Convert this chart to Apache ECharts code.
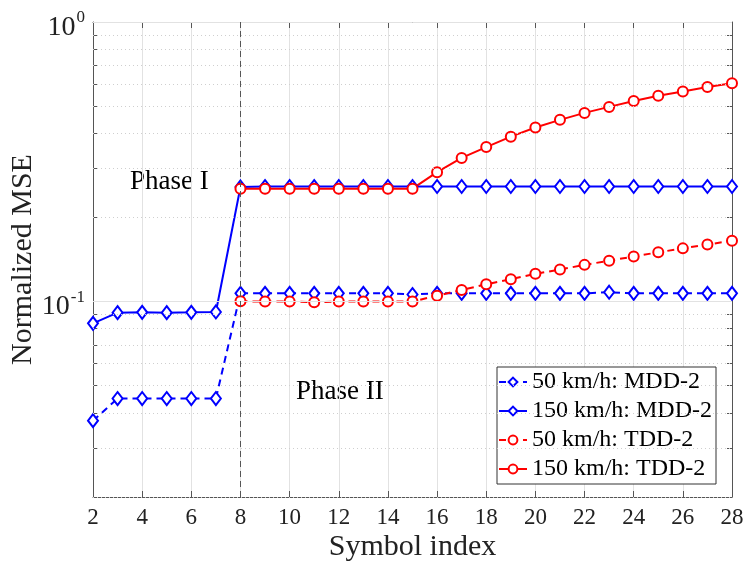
<!DOCTYPE html>
<html>
<head>
<meta charset="utf-8">
<title>Normalized MSE vs symbol index</title>
<script src="https://cdn.jsdelivr.net/npm/echarts@6.0.0/dist/echarts.min.js"></script>
<style>
html, body { margin: 0; padding: 0; background: #fff; }
#main { width: 747px; height: 572px; }
</style>
</head>
<body>
<div id="main"></div>
<script>
// values
const symbolIdx = [2, 3, 4, 5, 6, 7, 8, 9, 10, 11, 12, 13, 14, 15, 16, 17, 18, 19, 20, 21, 22, 23, 24, 25, 26, 27, 28]
const mdd50 = [0.0375, 0.045, 0.045, 0.045, 0.045, 0.045,
	0.107, 0.107, 0.107, 0.107, 0.107, 0.107, 0.107, 0.106, 0.107, 0.107, 0.107,
	0.107, 0.107, 0.107, 0.107, 0.108, 0.107, 0.107, 0.107, 0.107, 0.107]
const mdd150 = [0.0836, 0.0913, 0.0915, 0.0913, 0.0915, 0.0918,
	0.257, 0.258, 0.258, 0.258, 0.258, 0.258, 0.258, 0.258, 0.258, 0.258, 0.258,
	0.258, 0.258, 0.258, 0.258, 0.258, 0.258, 0.258, 0.258, 0.258, 0.258]
const tdd50 = [null, null, null, null, null, null,
	0.1003, 0.1, 0.1, 0.0995, 0.1, 0.1, 0.1, 0.1, 0.105, 0.110, 0.1153,
	0.1202, 0.1257, 0.1302, 0.1353, 0.140, 0.145, 0.150, 0.155, 0.160, 0.165]
const tdd150 = [null, null, null, null, null, null,
	0.2535, 0.2535, 0.2535, 0.2535, 0.2535, 0.2535, 0.2535, 0.2535, 0.2904, 0.3264, 0.357,
	0.389, 0.4195, 0.4467, 0.473, 0.497, 0.522, 0.545, 0.564, 0.585, 0.604]
const yMajor = [0.1, 1]
const yMinor = [0.02, 0.03, 0.04, 0.05, 0.06, 0.07, 0.08, 0.09, 0.2, 0.3, 0.4, 0.5, 0.6, 0.7, 0.8, 0.9]
const phaseStart = 8
const names = ['50 km/h: MDD-2', '150 km/h: MDD-2', '50 km/h: TDD-2', '150 km/h: TDD-2']

const font = 'Liberation Serif, Times New Roman, serif'
const blue = '#0000ff'
const red = '#ff0000'
const axisColor = '#555'

const pairs = ys => symbolIdx.map((x, i) => [x, ys[i]])

const lineSeries = (name, ys, color, dashed, symbol, size) => ({
	name,
	type: 'line',
	data: pairs(ys),
	z: 3,
	symbol,
	symbolSize: size,
	showAllSymbol: true,
	connectNulls: false,
	color,
	lineStyle: { color, width: 2, type: dashed ? [7, 5] : 'solid' },
	itemStyle: { color, borderColor: color, borderWidth: 1.6 },
	emphasis: { disabled: true }
})

const gridLines = []
yMinor.forEach(v => gridLines.push({ yAxis: v, lineStyle: { color: '#cfcfcf', type: [1, 3], width: 1 } }))
yMajor.forEach(v => gridLines.push({ yAxis: v, lineStyle: { color: '#e2e2e2', type: 'solid', width: 1 } }))
gridLines.push({ xAxis: phaseStart, lineStyle: { color: '#555', type: [6, 4], width: 1 } })

const supLabel = v => {
	const p = Math.round(Math.log10(v))
	if (Math.abs(Math.log10(v) - p) > 1e-6) return ''
	return '{b|10}{s|' + p + '}'
}

const chart = echarts.init(document.getElementById('main'))
chart.setOption({
	animation: false,
	backgroundColor: '#fff',
	grid: { left: 93, right: 15, top: 22, bottom: 75, containLabel: false, outerBoundsMode: 'none' },
	legend: {
		data: names,
		orient: 'vertical',
		right: 31,
		top: 367,
		backgroundColor: '#fff',
		borderColor: '#333',
		borderWidth: 1,
		borderRadius: 0,
		padding: [3, 4, 3, 1],
		itemGap: 5,
		itemWidth: 28,
		itemHeight: 11,
		selectedMode: false,
		textStyle: { fontFamily: font, fontSize: 24, color: '#000' }
	},
	xAxis: [{
		type: 'value',
		min: 2,
		max: 28,
		interval: 2,
		name: 'Symbol index',
		nameLocation: 'middle',
		nameGap: 35,
		nameMoveOverlap: false,
		nameTextStyle: { fontFamily: font, fontSize: 30, color: '#222' },
		axisLine: { show: true, lineStyle: { color: axisColor, width: 1 } },
		axisTick: { show: true, inside: true, length: 6, lineStyle: { color: axisColor } },
		axisLabel: { fontFamily: font, fontSize: 23, color: '#222', margin: 9 },
		splitLine: { show: true, lineStyle: { color: '#e2e2e2', width: 1 } }
	}, {
		type: 'value',
		position: 'top',
		min: 2,
		max: 28,
		interval: 2,
		axisLine: { show: true, lineStyle: { color: axisColor, width: 1 } },
		axisTick: { show: true, inside: true, length: 6, lineStyle: { color: axisColor } },
		axisLabel: { show: false },
		splitLine: { show: false }
	}],
	yAxis: [{
		type: 'log',
		logBase: 10,
		min: 0.02,
		max: 1,
		name: 'Normalized MSE',
		nameLocation: 'middle',
		nameGap: 55,
		nameMoveOverlap: false,
		nameTextStyle: { fontFamily: font, fontSize: 30, color: '#222' },
		axisLine: { show: true, lineStyle: { color: axisColor, width: 1 } },
		axisTick: { show: true, inside: true, length: 5, customValues: yMinor.concat(yMajor), lineStyle: { color: axisColor } },
		axisLabel: {
			customValues: yMajor,
			margin: 8,
			formatter: supLabel,
			rich: {
				b: { fontFamily: font, fontSize: 28, lineHeight: 28, color: '#222', padding: [11, 0, 0, 0] },
				s: { fontFamily: font, fontSize: 17, lineHeight: 17, color: '#222', padding: [0, 0, 9, 1] }
			}
		},
		splitLine: { show: false }
	}, {
		type: 'log',
		logBase: 10,
		min: 0.02,
		max: 1,
		position: 'right',
		axisLine: { show: true, lineStyle: { color: axisColor, width: 1 } },
		axisTick: { show: true, inside: true, length: 5, customValues: yMinor.concat(yMajor), lineStyle: { color: axisColor } },
		axisLabel: { show: false },
		splitLine: { show: false }
	}],
	graphic: [
		{ type: 'text', left: 130, top: 168, style: { text: 'Phase I', font: '27px ' + font, fill: '#000' } },
		{ type: 'text', left: 296, top: 378, style: { text: 'Phase II', font: '27px ' + font, fill: '#000' } }
	],
	series: [{
		name: 'grid',
		type: 'line',
		data: [],
		z: 1,
		silent: true,
		markLine: {
			silent: true,
			symbol: ['none', 'none'],
			label: { show: false },
			animation: false,
			data: gridLines
		}
	},
	lineSeries(names[0], mdd50, blue, true, 'emptyDiamond', [10, 13]),
	lineSeries(names[1], mdd150, blue, false, 'emptyDiamond', [10, 13]),
	lineSeries(names[2], tdd50, red, true, 'emptyCircle', 10),
	lineSeries(names[3], tdd150, red, false, 'emptyCircle', 10)
	]
})
</script>
</body>
</html>
